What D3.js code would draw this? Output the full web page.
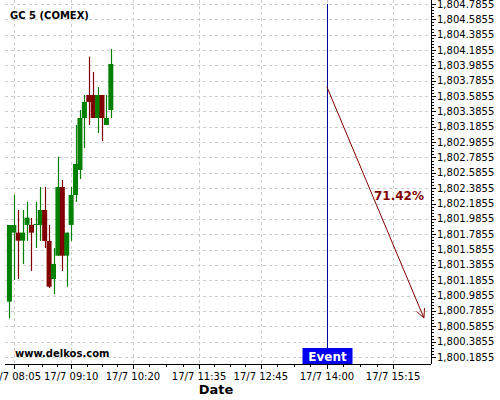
<!DOCTYPE html>
<html><head><meta charset="utf-8">
<script src="https://cdn.jsdelivr.net/npm/d3@7"></script>
<style>body{margin:0;background:#fff}svg{display:block;font-family:"DejaVu Sans",sans-serif}</style>
</head><body><svg id="c" width="500" height="400"></svg>
<script>
const times = ["08:00","08:05","08:10","08:15","08:20","08:25","08:30","08:35","08:40","08:45","08:50","08:55","09:00","09:05","09:10","09:15","09:20","09:25","09:30","09:35","09:40","09:45","09:50","09:55"];
const open  = [1800.907,1801.806,1801.806,1801.702,1801.906,1801.906,1801.906,1801.906,1802.101,1801.698,1801.202,1801.506,1802.401,1801.506,1801.906,1802.297,1802.623,1803.300,1803.600,1803.600,1803.300,1803.600,1803.209,1803.404];
const high  = [1801.906,1802.297,1802.101,1802.101,1802.206,1801.997,1802.206,1802.401,1802.401,1801.906,1801.606,1802.796,1802.492,1801.806,1802.401,1803.209,1803.404,1803.600,1804.099,1803.900,1803.704,1803.600,1803.600,1804.199];
const low   = [1800.690,1801.189,1801.202,1801.398,1801.698,1801.307,1801.606,1801.698,1801.606,1801.085,1801.007,1801.506,1801.307,1801.102,1801.698,1802.206,1802.505,1802.909,1803.209,1803.300,1803.105,1803.001,1803.209,1803.300];
const close = [1801.906,1801.906,1801.702,1801.806,1802.001,1801.806,1801.919,1802.101,1801.698,1801.102,1801.398,1802.401,1801.506,1801.806,1802.297,1802.701,1803.300,1803.509,1803.509,1803.300,1803.600,1803.300,1803.300,1804.004];
const xTickTimes = ["08:05","09:10","10:20","11:35","12:45","14:00","15:15"];
const yTicks = d3.range(24).map(i => +(1800.1855 + 0.2*i).toFixed(4));
const title = "GC 5 (COMEX)";
const eventTime = "14:00";
const eventLabel = "Event";
const arrowFrom = {time:"14:00", value:1803.704};
const arrowTo = {time:"15:50", value:1800.694};
const pctLabel = "71.42%";
const watermark = "www.delkos.com";

const T = s => { const [h,m] = s.split(":").map(Number); return new Date(2020,6,17,h,m); };
const svg = d3.select("#c");
const L = 5, R = 431, TOP = 0, BOT = 364;
const x = d3.scaleTime().domain([T("07:55"), T("15:58")]).range([L, R]);
const y = d3.scaleLinear().domain([1800.1855, 1804.7855]).range([357, 4]);
const fmtY = d3.format(",.4f");
const fmtX = d3.timeFormat("%-d/%-m %H:%M");

// grid
const g = svg.append("g");
g.selectAll("line.hy").data(yTicks).join("line")
  .attr("x1", L).attr("x2", R).attr("y1", d => Math.round(y(d))+0.5).attr("y2", d => Math.round(y(d))+0.5)
  .attr("stroke", "#cccccc").attr("stroke-dasharray", "3,3");
g.selectAll("line.vx").data(xTickTimes).join("line")
  .attr("x1", d => Math.round(x(T(d)))+0.5).attr("x2", d => Math.round(x(T(d)))+0.5).attr("y1", TOP).attr("y2", BOT)
  .attr("stroke", "#cccccc").attr("stroke-dasharray", "3,3");

// watermark
svg.append("text").attr("x", 15).attr("y", 357).attr("font-size", 10).attr("font-weight", "bold").text(watermark);

// candles
const data = times.map((t,i) => ({t:T(t), o:open[i], h:high[i], l:low[i], c:close[i]}));
const cg = svg.append("g");
cg.selectAll("line").data(data).join("line")
  .attr("x1", d => Math.round(x(d.t))+0.5).attr("x2", d => Math.round(x(d.t))+0.5)
  .attr("y1", d => y(d.h)).attr("y2", d => y(d.l))
  .attr("stroke", d => d.c >= d.o ? "#008000" : "#800000").attr("stroke-width", 1.2);
cg.selectAll("rect").data(data).join("rect")
  .attr("x", d => x(d.t) - 2.5).attr("width", 5)
  .attr("y", d => y(Math.max(d.o, d.c))).attr("height", d => Math.max(1, Math.abs(y(d.o) - y(d.c))))
  .attr("fill", d => d.c >= d.o ? "#008000" : "#800000");

// title
svg.append("text").attr("x", 10).attr("y", 19).attr("font-size", 10).attr("font-weight", "bold").text(title);

// event line
const ex = Math.round(x(T(eventTime))) + 0.5;
svg.append("line").attr("x1", ex).attr("x2", ex).attr("y1", 4).attr("y2", 348).attr("stroke", "#000099").attr("stroke-width", 1);
svg.append("rect").attr("x", ex - 25).attr("y", 348).attr("width", 50).attr("height", 16).attr("fill", "#0000ee");
svg.append("text").attr("x", ex).attr("y", 361).attr("text-anchor", "middle").attr("fill", "#fff")
  .attr("font-size", 12).attr("font-weight", "bold").text(eventLabel);

// arrow
const ax1 = x(T(arrowFrom.time)), ay1 = y(arrowFrom.value), ax2 = x(T(arrowTo.time)), ay2 = y(arrowTo.value);
svg.append("line").attr("x1", ax1).attr("y1", ay1).attr("x2", ax2).attr("y2", ay2).attr("stroke", "#800000").attr("stroke-width", 1);
const ang = Math.atan2(ay2 - ay1, ax2 - ax1), hl = 10, ha = Math.PI/7;
[ang + ha, ang - ha].forEach(a => {
  svg.append("line").attr("x1", ax2).attr("y1", ay2).attr("x2", ax2 - hl*Math.cos(a)).attr("y2", ay2 - hl*Math.sin(a))
    .attr("stroke", "#800000").attr("stroke-width", 1);
});
svg.append("text").attr("x", ax2).attr("y", (ay1+ay2)/2 - 2).attr("text-anchor", "end").attr("fill", "#800000")
  .attr("font-size", 12).attr("font-weight", "bold").text(pctLabel);

// right axis
const yMinor = d3.range(0, 23*5+1).map(i => 1800.1855 + 0.04*i);
const ra = svg.append("g");
ra.append("line").attr("x1", R+0.5).attr("x2", R+0.5).attr("y1", TOP).attr("y2", BOT).attr("stroke", "#000");
ra.selectAll("line.mn").data(yMinor).join("line").attr("class","mn")
  .attr("x1", R).attr("x2", R+3).attr("y1", d => Math.round(y(d))+0.5).attr("y2", d => Math.round(y(d))+0.5).attr("stroke", "#000");
ra.selectAll("line.mj").data(yTicks).join("line").attr("class","mj")
  .attr("x1", R).attr("x2", R+5).attr("y1", d => Math.round(y(d))+0.5).attr("y2", d => Math.round(y(d))+0.5).attr("stroke", "#000");
ra.selectAll("text").data(yTicks).join("text")
  .attr("x", 437).attr("y", d => y(d) + 3.5).attr("font-size", 10).text(d => fmtY(d));

// bottom axis
const ba = svg.append("g");
ba.append("line").attr("x1", L).attr("x2", R).attr("y1", BOT+0.5).attr("y2", BOT+0.5).attr("stroke", "#000");
const xt = xTickTimes.map(T);
const xMinor = [];
for (let i = 0; i < xt.length - 1; i++) for (let k = 1; k < 4; k++) xMinor.push(new Date(+xt[i] + (xt[i+1]-xt[i])*k/4));
ba.selectAll("line.mn").data(xMinor).join("line").attr("class","mn")
  .attr("x1", d => Math.round(x(d))+0.5).attr("x2", d => Math.round(x(d))+0.5).attr("y1", BOT).attr("y2", BOT+3).attr("stroke", "#000");
ba.selectAll("line.mj").data(xt).join("line").attr("class","mj")
  .attr("x1", d => Math.round(x(d))+0.5).attr("x2", d => Math.round(x(d))+0.5).attr("y1", BOT).attr("y2", BOT+5).attr("stroke", "#000");
ba.selectAll("text").data(xt).join("text")
  .attr("x", d => x(d)).attr("y", 380).attr("text-anchor", "middle").attr("font-size", 10).text(d => fmtX(d));
svg.append("text").attr("x", 216).attr("y", 394).attr("text-anchor", "middle").attr("font-size", 13).attr("font-weight", "bold").text("Date");
</script></body></html>
